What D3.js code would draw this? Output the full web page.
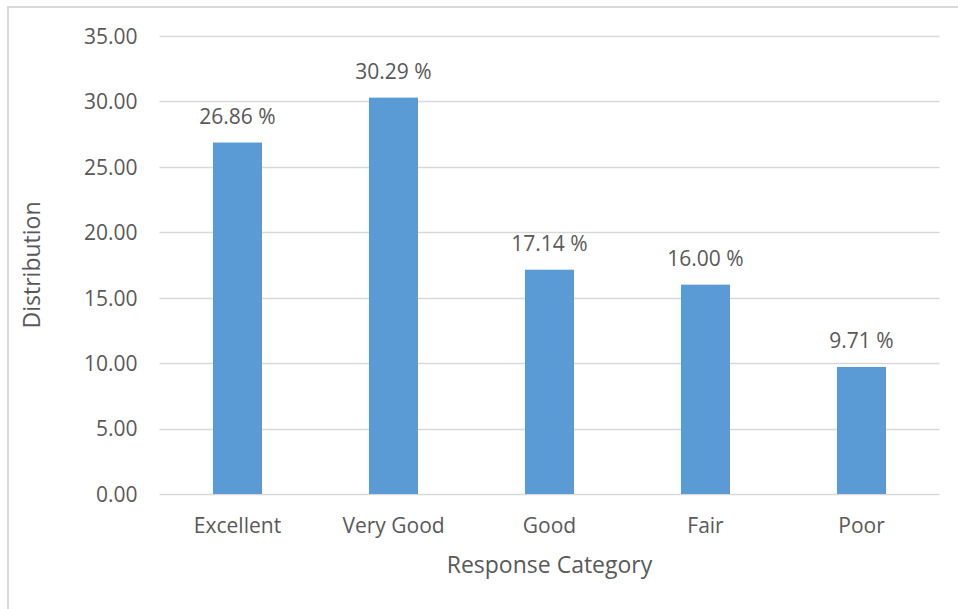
<!DOCTYPE html>
<html>
<head>
<meta charset="utf-8">
<script src="https://cdn.jsdelivr.net/npm/d3@7"></script>
<style>
  html, body { margin: 0; padding: 0; background: #fff; }
  svg { display: block; }
  text { font-family: "Open Sans", "Noto Sans", sans-serif; fill: #595959; }
</style>
</head>
<body>
<svg id="chart" width="958" height="609"></svg>
<script>
// Survey response distribution (percent of respondents)
const categories = ["Excellent", "Very Good", "Good", "Fair", "Poor"];
const values = [26.86, 30.29, 17.14, 16.00, 9.71];
const yTicks = [0, 5, 10, 15, 20, 25, 30, 35];

const svg = d3.select("#chart");
const W = 958, H = 609;
const margin = { left: 159.5, right: 18.5, top: 36, bottom: 115 };

// chart frame
svg.append("rect")
  .attr("x", 8).attr("y", 7)
  .attr("width", W + 10).attr("height", H + 10)
  .attr("fill", "none").attr("stroke", "#d9d9d9").attr("stroke-width", 2);

const x = d3.scaleBand()
  .domain(categories)
  .range([margin.left, W - margin.right])
  .paddingInner(0.686)
  .paddingOuter(0.343);

const y = d3.scaleLinear()
  .domain([0, 35])
  .range([H - margin.bottom, margin.top]);

// horizontal gridlines
svg.append("g")
  .selectAll("line")
  .data(yTicks)
  .join("line")
  .attr("x1", margin.left).attr("x2", W - margin.right)
  .attr("y1", d => Math.round(y(d)) + 0.5).attr("y2", d => Math.round(y(d)) + 0.5)
  .attr("stroke", "#d9d9d9").attr("stroke-width", 1.3);

// y axis labels
const yAxis = d3.axisLeft(y).tickValues(yTicks).tickFormat(d3.format(".2f")).tickSize(0).tickPadding(22);
const yg = svg.append("g").attr("transform", `translate(${margin.left},0)`).call(yAxis);
yg.select(".domain").remove();
yg.attr("font-family", null);
yg.selectAll("text").style("font-size", "21px").style("fill", "#595959").attr("dy", "0.35em");

// bars
svg.append("g")
  .selectAll("rect")
  .data(values)
  .join("rect")
  .attr("x", (d, i) => x(categories[i]))
  .attr("width", x.bandwidth())
  .attr("y", d => y(d))
  .attr("height", d => y(0) - y(d))
  .attr("fill", "#5b9bd5");

// value labels
svg.append("g")
  .selectAll("text")
  .data(values)
  .join("text")
  .attr("x", (d, i) => x(categories[i]) + x.bandwidth() / 2)
  .attr("y", d => y(d) - 19)
  .attr("text-anchor", "middle")
  .style("font-size", "21px")
  .text(d => d.toFixed(2) + " %");

// x axis labels
const xAxis = d3.axisBottom(x).tickSize(0).tickPadding(24);
const xg = svg.append("g").attr("transform", `translate(0,${y(0)})`).call(xAxis);
xg.select(".domain").remove();
xg.attr("font-family", null);
xg.selectAll("text").style("font-size", "21px").style("fill", "#595959");

// axis titles
svg.append("text")
  .attr("x", (margin.left + W - margin.right) / 2)
  .attr("y", 573)
  .attr("text-anchor", "middle")
  .style("font-size", "23px")
  .text("Response Category");

svg.append("text")
  .attr("transform", `translate(40,265) rotate(-90)`)
  .attr("text-anchor", "middle")
  .style("font-size", "23px")
  .text("Distribution");
</script>
</body>
</html>
